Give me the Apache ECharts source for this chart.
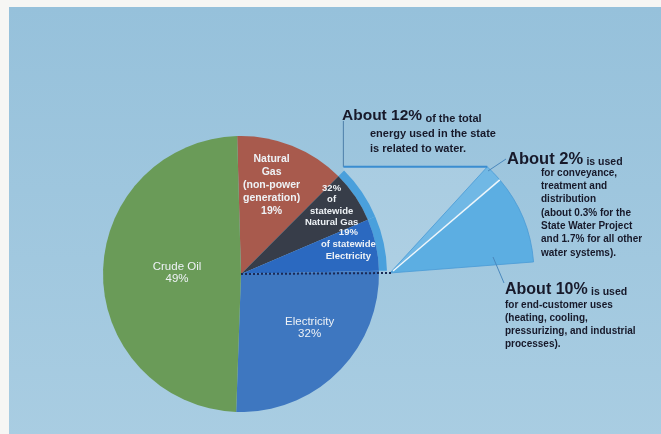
<!DOCTYPE html>
<html>
<head>
<meta charset="utf-8">
<script src="https://cdn.jsdelivr.net/npm/echarts@6/dist/echarts.min.js"></script>
<style>
html,body{margin:0;padding:0;background:#f6f6f4;}
#chart{width:661px;height:434px;}
</style>
</head>
<body>
<div id="chart"></div>
<script>
// ---------- DATA ----------
const fuels = ['Natural Gas', 'Electricity', 'Crude Oil'];
const fuelShare = [19, 32, 49];            // % of total statewide energy
const waterPctOfFuel = [32, 19, 0];        // % of each fuel that is water-related
const waterUses = ['Conveyance, treatment and distribution', 'End-customer uses'];
const waterUseShare = [2, 10];             // % of total statewide energy
const fuelLabels = [
  'Natural\nGas\n(non-power\ngeneration)\n19%',
  'Electricity\n32%',
  'Crude Oil\n49%'
];
const waterLabels = [
  '32%\nof\nstatewide\nNatural Gas',
  '19%\nof statewide\nElectricity'
];

// ---------- LAYOUT / STYLE ----------
const pieC = [241, 274], pieR = 138, rimR = [138, 146], pieStart = 91.6;
const expC = [390, 273], expR = 144, expStart = 47.5, expEnd = 4.4;
const colors = {
  ng: '#a85a4d', ngWater: '#373d49', elWater: '#2b69c0', el: '#3e77c0', oil: '#6a9b58',
  rim: '#4aa0dc', conv: '#70b8e5', end: '#5caee2'
};
// label nudges (dx, dy) from default inside positions, order of main slices
const labelNudge = [[4, -22], [31, -28], [37, -14], [18, 3], [8, -1]];

// main slices: NG (non water), NG water, Elec water, Elec rest, Crude oil
const ngWater = fuelShare[0] * waterPctOfFuel[0] / 100;
const elWater = fuelShare[1] * waterPctOfFuel[1] / 100;
const mainData = [
  {name: fuels[0], value: fuelShare[0] - ngWater, itemStyle: {color: colors.ng},
   label: {formatter: fuelLabels[0], fontSize: 10.5, fontWeight: 'bold', lineHeight: 13}},
  {name: fuels[0] + ' (water)', value: ngWater, itemStyle: {color: colors.ngWater},
   label: {formatter: waterLabels[0], fontSize: 9.5, fontWeight: 'bold', lineHeight: 11.5}},
  {name: fuels[1] + ' (water)', value: elWater, itemStyle: {color: colors.elWater},
   label: {formatter: waterLabels[1], fontSize: 9.5, fontWeight: 'bold', lineHeight: 12}},
  {name: fuels[1], value: fuelShare[1] - elWater, itemStyle: {color: colors.el},
   label: {formatter: fuelLabels[1], fontSize: 11.5, lineHeight: 12}},
  {name: fuels[2], value: fuelShare[2], itemStyle: {color: colors.oil},
   label: {formatter: fuelLabels[2], fontSize: 11.5, lineHeight: 12}}
];
const rimData = mainData.map((d, i) => ({
  name: d.name, value: d.value,
  itemStyle: {color: (i === 1 || i === 2) ? colors.rim : 'rgba(0,0,0,0)'}
}));
const expData = waterUses.map((n, i) => ({
  name: n, value: waterUseShare[i],
  itemStyle: {color: i === 0 ? colors.conv : colors.end}
}));

function polar(c, r, deg) { // deg clockwise from 12 o'clock
  const a = deg * Math.PI / 180;
  return [c[0] + r * Math.sin(a), c[1] - r * Math.cos(a)];
}
const expPoint = (r, deg) => [expC[0] + r * Math.cos(deg * Math.PI / 180), expC[1] - r * Math.sin(deg * Math.PI / 180)];
const wedgeTop = expPoint(expR, expStart);
const splitDeg = expStart - (waterUseShare[0] / (waterUseShare[0] + waterUseShare[1])) * (expStart - expEnd);
const splitEnd = expPoint(expR, splitDeg);
const rimTopDeg = 90 - pieStart + (mainData[0].value / 100) * 360;
const rimTop = polar(pieC, rimR[1] - 1, rimTopDeg);
const trap = [[rimTop[0], wedgeTop[1]], wedgeTop, expC];
for (let d = 89; d >= rimTopDeg; d -= 3) trap.push(polar(pieC, rimR[1] - 1, d));
trap.push(rimTop);

const ink = '#17192a';
const txt = (x, y, text, font, extra) => Object.assign({
  type: 'text', z: 20, silent: true,
  style: Object.assign({x, y, text, font, fill: ink, textVerticalAlign: 'middle'}, extra || {})
});
const line = (p1, p2, stroke, w, dash) => ({
  type: 'line', z: 15, silent: true,
  shape: {x1: p1[0], y1: p1[1], x2: p2[0], y2: p2[1]},
  style: {stroke, lineWidth: w, lineDash: dash || null}
});

const option = {
  backgroundColor: '#f6f6f4',
  animation: false,
  graphic: [
    {type: 'rect', z: -10, silent: true, shape: {x: 9, y: 7, width: 661, height: 434},
     style: {fill: {type: 'linear', x: 0, y: 0, x2: 0, y2: 1,
       colorStops: [{offset: 0, color: '#96c1db'}, {offset: 1, color: '#a9cde2'}]}}},
    {type: 'polygon', z: -5, silent: true, shape: {points: trap},
     style: {fill: 'rgba(255,255,255,0.13)'}},
    line([rimTop[0], 121], [rimTop[0], wedgeTop[1]], '#4d7fa8', 1),
    line([rimTop[0], wedgeTop[1]], wedgeTop, '#3a8dd0', 2),
    line(pieC, [expC[0] + 2, expC[1]], '#1b2a55', 2, [2, 2]),
    line([expC[0] + 3, expC[1] - 2], splitEnd, '#eef7fc', 1.6),
    line([488, 171], [506, 159], '#4a88bd', 1),
    line([493, 257], [504, 283], '#4a88bd', 1),
    // annotations
    {type: 'text', z: 20, silent: true, style: {
      x: 342, y: 115, textVerticalAlign: 'middle', fill: ink,
      text: '{a|About 12%} {b|of the total}',
      rich: {a: {font: 'bold 15.5px "Liberation Sans"', fill: ink, verticalAlign: 'bottom', lineHeight: 18},
             b: {font: 'bold 11px "Liberation Sans"', fill: ink, verticalAlign: 'bottom', lineHeight: 16}}
    }},
    txt(370, 141, 'energy used in the state\nis related to water.', 'bold 11px "Liberation Sans"', {lineHeight: 15}),
    {type: 'text', z: 20, silent: true, style: {
      x: 507, y: 158, textVerticalAlign: 'middle', fill: ink,
      text: '{a|About 2%} {b|is used}',
      rich: {a: {font: 'bold 16.5px "Liberation Sans"', fill: ink, verticalAlign: 'bottom', lineHeight: 19},
             b: {font: 'bold 10.5px "Liberation Sans"', fill: ink, verticalAlign: 'bottom', lineHeight: 16}}
    }},
    txt(541, 213, 'for conveyance,\ntreatment and\ndistribution\n(about 0.3% for the\nState Water Project\nand 1.7% for all other\nwater systems).',
        'bold 10px "Liberation Sans"', {lineHeight: 13.3}),
    {type: 'text', z: 20, silent: true, style: {
      x: 505, y: 288, textVerticalAlign: 'middle', fill: ink,
      text: '{a|About 10%} {b|is used}',
      rich: {a: {font: 'bold 16px "Liberation Sans"', fill: ink, verticalAlign: 'bottom', lineHeight: 19},
             b: {font: 'bold 10.5px "Liberation Sans"', fill: ink, verticalAlign: 'bottom', lineHeight: 16}}
    }},
    txt(505, 324.5, 'for end-customer uses\n(heating, cooling,\npressurizing, and industrial\nprocesses).',
        'bold 10px "Liberation Sans"', {lineHeight: 13})
  ],
  series: [
    {
      type: 'pie', z: 3, center: pieC, radius: pieR, startAngle: pieStart, clockwise: true,
      silent: true, avoidLabelOverlap: false,
      label: {show: true, position: 'inside', color: '#eef2f6', fontFamily: 'Liberation Sans', align: 'center'},
      labelLine: {show: false},
      labelLayout: (p) => ({dx: labelNudge[p.dataIndex][0], dy: labelNudge[p.dataIndex][1]}),
      data: mainData
    },
    {
      type: 'pie', z: 2, center: pieC, radius: rimR, startAngle: pieStart, clockwise: true,
      silent: true, label: {show: false}, labelLine: {show: false}, data: rimData
    },
    {
      type: 'pie', z: 2, center: expC, radius: expR, startAngle: expStart, endAngle: expEnd, clockwise: true,
      silent: true, label: {show: false}, labelLine: {show: false},
      itemStyle: {borderColor: '#4a9ad6', borderWidth: 0.8},
      data: expData
    }
  ]
};
const chart = echarts.init(document.getElementById('chart'));
chart.setOption(option);
</script>
</body>
</html>
